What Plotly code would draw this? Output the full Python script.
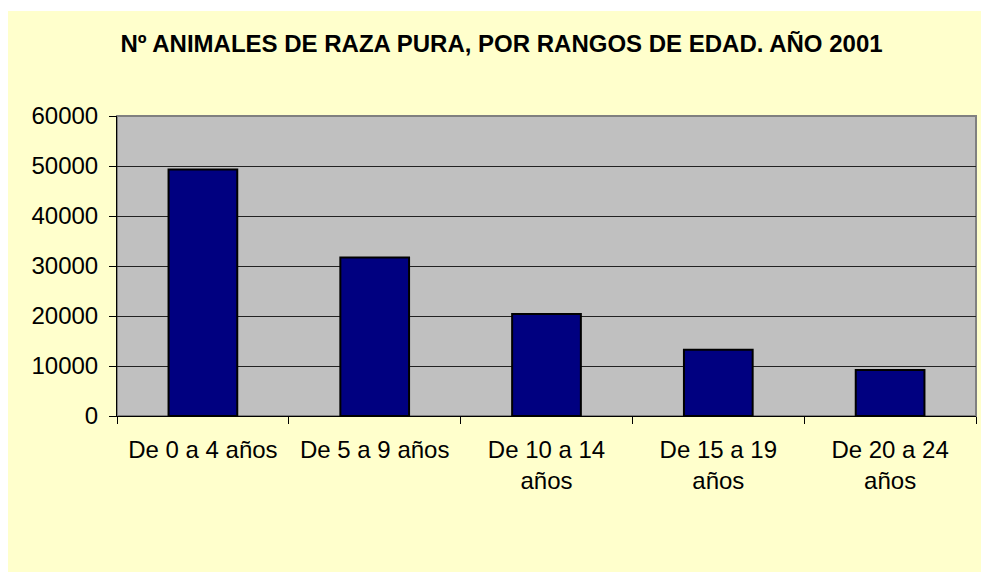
import plotly.graph_objects as go

categories = ["De 0 a 4 años", "De 5 a 9 años", "De 10 a 14<br>años", "De 15 a 19<br>años", "De 20 a 24<br>años"]
values = [49300, 31700, 20400, 13250, 9200]
title_text = "<b>Nº ANIMALES DE RAZA PURA, POR RANGOS DE EDAD. AÑO 2001</b>"
y_ticks = [0, 10000, 20000, 30000, 40000, 50000, 60000]

W, H = 981, 572
L, R, T, B = 117, 5, 116, 156
PW, PH = W - L - R, H - T - B

fig = go.Figure()
fig.add_trace(go.Bar(
    x=categories, y=values, width=0.4,
    marker=dict(color="#000080", line=dict(color="#000000", width=2)),
))

FONT = "Liberation Sans, Arial, sans-serif"
fig.update_layout(
    width=W, height=H,
    margin=dict(l=L, r=R, t=T, b=B, pad=0),
    paper_bgcolor="#FFFFCC",
    plot_bgcolor="#C0C0C0",
    showlegend=False,
    font=dict(family=FONT, size=24, color="#000000"),
    title=dict(text=title_text, x=501.5 / W, xanchor="center", xref="container",
               y=1 - 43.5 / H, yanchor="middle", yref="container",
               font=dict(family=FONT, size=24, color="#000000")),
    xaxis=dict(
        type="category", tickson="boundaries", ticks="outside", ticklen=7,
        tickcolor="#000000", tickwidth=1, showline=True, linecolor="#000000",
        linewidth=1, showgrid=False, tickangle=0,
        tickfont=dict(family=FONT, size=24), ticklabelstandoff=12,
    ),
    yaxis=dict(
        range=[0, 60000], tickvals=y_ticks, tickformat="d", ticks="outside", ticklen=7,
        tickcolor="#000000", tickwidth=1, showline=True, linecolor="#000000",
        linewidth=1, showgrid=True, gridcolor="#222222", gridwidth=1,
        zeroline=False, tickfont=dict(family=FONT, size=24),
        ticklabelstandoff=6,
    ),
    shapes=[
        # white strips outside the chart area (top and left)
        dict(type="rect", xref="paper", yref="paper",
             x0=-L / PW, x1=(W - L) / PW,
             y0=1 + (T - 11) / PH, y1=1 + T / PH,
             fillcolor="#FFFFFF", line=dict(width=0), layer="below"),
        dict(type="rect", xref="paper", yref="paper",
             x0=-L / PW, x1=-(L - 8) / PW,
             y0=-B / PH, y1=1 + T / PH,
             fillcolor="#FFFFFF", line=dict(width=0), layer="below"),
        # plot area border (top/right gray)
        dict(type="rect", xref="paper", yref="paper", x0=0, x1=1, y0=0, y1=1,
             fillcolor="rgba(0,0,0,0)", line=dict(color="#808080", width=2), layer="below"),
    ],
)

fig.write_html("out.html",
               config={"displayModeBar": False},
               post_script="document.body.style.margin='0';document.body.style.overflow='hidden';")
